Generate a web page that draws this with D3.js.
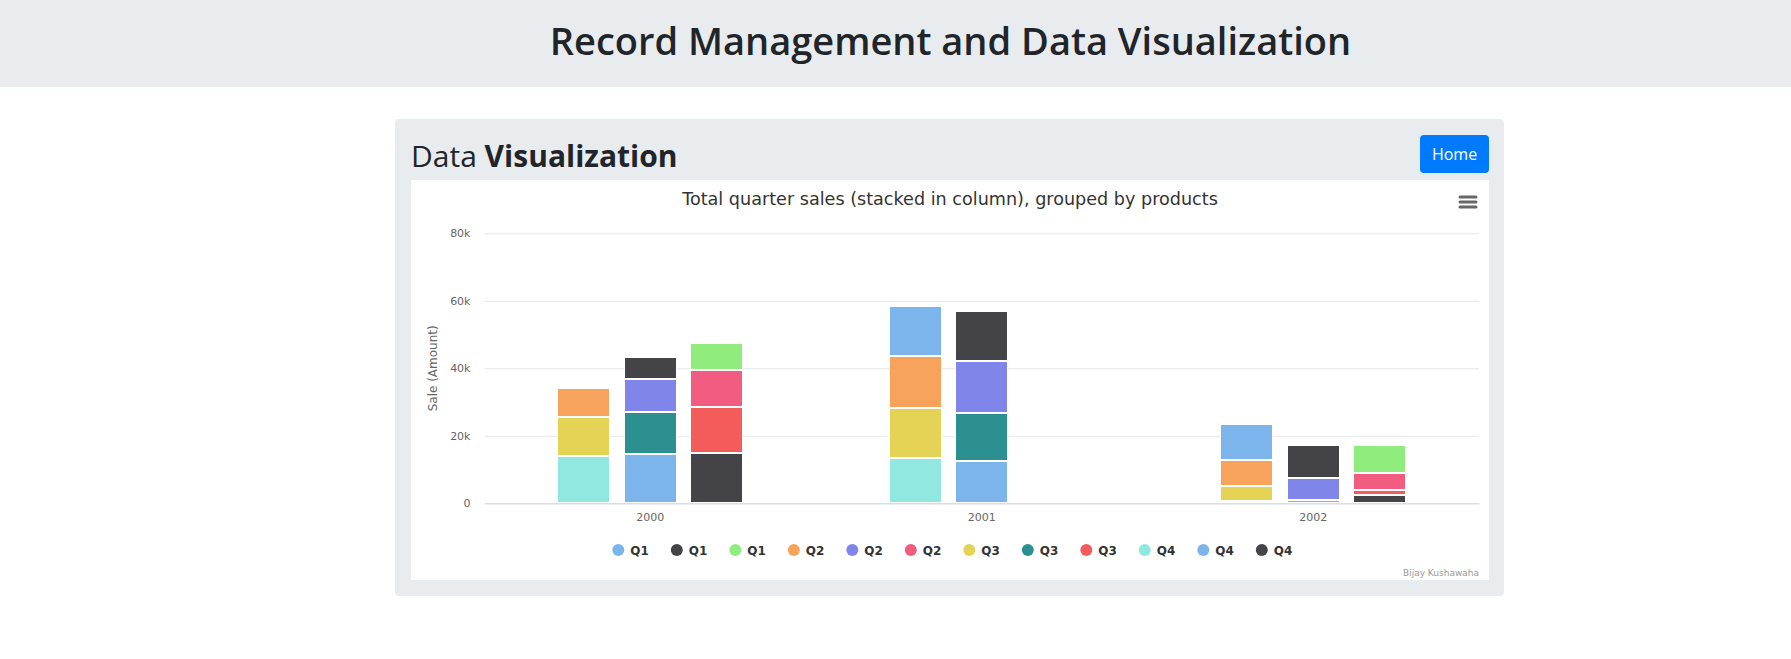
<!DOCTYPE html>
<html>
<head>
<meta charset="utf-8">
<script src="https://cdn.jsdelivr.net/npm/d3@7"></script>
<style>
  html, body { margin: 0; padding: 0; background: #fff; }
  svg { display: block; }
</style>
</head>
<body>
<svg id="page" width="1791" height="659"></svg>
<script>
// ---------------- DATA ----------------
const years = ["2000", "2001", "2002"];
const quarterLabels = ["Q1", "Q1", "Q1", "Q2", "Q2", "Q2", "Q3", "Q3", "Q3", "Q4", "Q4", "Q4"];
const seriesStack = [0, 1, 2, 0, 1, 2, 0, 1, 2, 0, 1, 2];
const seriesColors = ["#7cb5ec", "#434348", "#90ed7d", "#f7a35c", "#8085e9", "#f15c80",
                      "#e4d354", "#2b908f", "#f45b5b", "#91e8e1", "#7cb5ec", "#434348"];
// values per year (2000, 2001, 2002)
const q1Stack1 = [0, 14900, 10700];
const q1Stack2 = [6700, 14900, 9800];
const q1Stack3 = [8100, 0, 8400];
const q2Stack1 = [8700, 15500, 7700];
const q2Stack2 = [9700, 15300, 6600];
const q2Stack3 = [11000, 0, 5200];
const q3Stack1 = [11600, 14800, 4500];
const q3Stack2 = [12500, 14300, 0];
const q3Stack3 = [13600, 0, 1300];
const q4Stack1 = [13900, 13300, 600];
const q4Stack2 = [14500, 12500, 900];
const q4Stack3 = [14800, 0, 2500];
const yTicks = [0, 20000, 40000, 60000, 80000];
const chartTitle = "Total quarter sales (stacked in column), grouped by products";
const yAxisTitle = "Sale (Amount)";
const creditText = "Bijay Kushawaha";

const seriesValues = [q1Stack1, q1Stack2, q1Stack3, q2Stack1, q2Stack2, q2Stack3,
                      q3Stack1, q3Stack2, q3Stack3, q4Stack1, q4Stack2, q4Stack3];
const series = seriesValues.map((v, i) => ({
  id: i, name: quarterLabels[i], stack: seriesStack[i], color: seriesColors[i], values: v
}));

// ---------------- PAGE ----------------
const svg = d3.select("#page");
const pageFont = "'Open Sans', 'Noto Sans', sans-serif";
const chartFont = "'DejaVu Sans', Verdana, sans-serif";

svg.append("rect").attr("x", 0).attr("y", 0).attr("width", 1791).attr("height", 87).attr("fill", "#e9ecef");
svg.append("text").attr("x", 950.5).attr("y", 55).attr("text-anchor", "middle")
  .attr("font-family", pageFont).attr("font-size", 38).attr("font-weight", 600)
  .attr("fill", "#212529").text("Record Management and Data Visualization");

svg.append("rect").attr("x", 395).attr("y", 119).attr("width", 1109).attr("height", 477)
  .attr("rx", 4).attr("fill", "#e9ecef");
const h = svg.append("text").attr("x", 411).attr("y", 167)
  .attr("font-family", pageFont).attr("font-size", 30).attr("fill", "#212529");
h.append("tspan").attr("font-weight", 500).text("Data ");
h.append("tspan").attr("font-weight", 700).text("Visualization");

svg.append("rect").attr("x", 1420).attr("y", 135).attr("width", 69).attr("height", 38)
  .attr("rx", 4).attr("fill", "#007bff");
svg.append("text").attr("x", 1454.5).attr("y", 160).attr("text-anchor", "middle")
  .attr("font-family", pageFont).attr("font-size", 16).attr("fill", "#fff").text("Home");

// ---------------- CHART ----------------
const chart = svg.append("g").attr("font-family", chartFont);
chart.append("rect").attr("x", 411).attr("y", 180).attr("width", 1078).attr("height", 400).attr("fill", "#fff");

chart.append("text").attr("x", 950).attr("y", 205).attr("text-anchor", "middle")
  .attr("font-size", 17.6).attr("fill", "#333").text(chartTitle);

// menu icon
[197, 202, 207].forEach(yy => {
  chart.append("line").attr("x1", 1460).attr("x2", 1476).attr("y1", yy).attr("y2", yy)
    .attr("stroke", "#666").attr("stroke-width", 3).attr("stroke-linecap", "round");
});

const plotLeft = 484.5, plotRight = 1479, plotTop = 233.3, plotBottom = 503.3;
const x = d3.scaleBand().domain(years).range([plotLeft, plotRight]).padding(0);
const bw = x.bandwidth();
const xStack = d3.scaleBand().domain([0, 1, 2]).range([0.2 * bw, 0.8 * bw])
  .paddingInner(0.2).paddingOuter(0.1);
const y = d3.scaleLinear().domain([0, 80000]).range([plotBottom, plotTop]);

// gridlines
const yAxis = d3.axisLeft(y).tickValues(yTicks)
  .tickFormat(d => d === 0 ? "0" : (d / 1000) + "k")
  .tickSize(-(plotRight - plotLeft)).tickPadding(14);
const ya = chart.append("g").attr("transform", `translate(${plotLeft},0)`).call(yAxis);
ya.select(".domain").remove();
ya.selectAll(".tick line").attr("stroke", "#e6e6e6");
ya.selectAll(".tick text").attr("fill", "#666").attr("font-size", 11)
  .attr("font-family", chartFont);

// x axis
const xAxis = d3.axisBottom(x).tickSize(0).tickPadding(10);
const xa = chart.append("g").attr("transform", `translate(0,${plotBottom})`).call(xAxis);
xa.select(".domain").attr("stroke", "#ccd6eb");
xa.selectAll(".tick text").attr("fill", "#666").attr("font-size", 11)
  .attr("font-family", chartFont);

// y axis title
chart.append("text").attr("transform", `translate(437,${(plotTop + plotBottom) / 2}) rotate(-90)`)
  .attr("text-anchor", "middle").attr("font-size", 12).attr("fill", "#666").text(yAxisTitle);

// stacked bars
const barsG = chart.append("g");
[0, 1, 2].forEach(s => {
  const ss = series.filter(d => d.stack === s).reverse(); // bottom first (Q4 at bottom)
  const rows = years.map((yr, i) => {
    const r = { year: yr };
    ss.forEach(d => { r[d.id] = d.values[i]; });
    return r;
  });
  const stacked = d3.stack().keys(ss.map(d => d.id))(rows);
  stacked.forEach((layer, li) => {
    const sd = ss[li];
    barsG.selectAll(null).data(layer.filter(p => p[1] - p[0] > 0)).join("rect")
      .attr("x", p => Math.round(x(p.data.year) + xStack(s)) + 0.5)
      .attr("width", Math.round(xStack.bandwidth()) - 1)
      .attr("y", p => Math.round(y(p[1])) + 0.5)
      .attr("height", p => Math.max(0.8, Math.round(y(p[0])) - Math.round(y(p[1])) - 1))
      .attr("fill", sd.color)
      .attr("stroke", "#fff").attr("stroke-width", 1);
  });
});

// legend
const legend = chart.append("g");
const legStart = 612.3, legStep = 58.5, legY = 550;
series.forEach((d, i) => {
  const lx = legStart + i * legStep;
  legend.append("circle").attr("cx", lx + 6).attr("cy", legY).attr("r", 6).attr("fill", d.color);
  legend.append("text").attr("x", lx + 18).attr("y", legY + 4.5)
    .attr("font-size", 12).attr("font-weight", "bold").attr("fill", "#333").text(d.name);
});

// credits
chart.append("text").attr("x", 1479).attr("y", 576).attr("text-anchor", "end")
  .attr("font-size", 9).attr("fill", "#999").text(creditText);
</script>
</body>
</html>
